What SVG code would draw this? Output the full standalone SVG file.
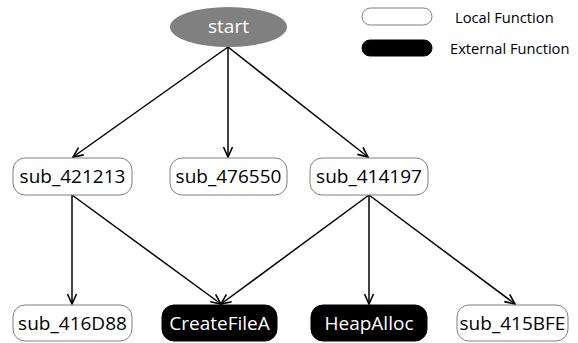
<svg xmlns="http://www.w3.org/2000/svg" width="578" height="343" viewBox="0 0 578 343">
  <style>
    .local rect { fill: #ffffff; stroke: #7f7f7f; stroke-width: 1; }
    .external rect { fill: #000000; stroke: #000000; stroke-width: 1; }
    .label { font-family: "Open Sans", "Liberation Sans", sans-serif; font-size: 19px; text-anchor: middle; dominant-baseline: central; }
    .local text { fill: #000000; }
    .external text { fill: #ffffff; }
    .legend-text { font-family: "Open Sans", "Liberation Sans", sans-serif; font-size: 14.7px; fill: #000000; dominant-baseline: central; }
    .edges line { stroke: #000000; stroke-width: 1.5; marker-end: url(#arrow); }
  </style>
  <defs>
    <marker id="arrow" viewBox="0 0 12 12" refX="11" refY="6" markerWidth="12" markerHeight="12" markerUnits="userSpaceOnUse" orient="auto">
      <path d="M1,1.5 L11,6 L1,10.5" fill="none" stroke="#000000" stroke-width="1.6"/>
    </marker>
  </defs>
  <rect width="578" height="343" fill="#ffffff"/>

  <!-- legend -->
  <g id="legend">
    <g class="local"><rect x="362" y="8" width="70" height="17" rx="8.5"/></g>
    <text class="legend-text" x="455" y="16.5">Local Function</text>
    <g class="external"><rect x="362" y="40" width="70" height="16" rx="8"/></g>
    <text class="legend-text" x="450" y="48">External Function</text>
  </g>

  <!-- call edges -->
  <g class="edges">
    <line x1="228" y1="47" x2="73" y2="157"/>
    <line x1="228" y1="47" x2="228" y2="157"/>
    <line x1="228" y1="47" x2="368" y2="157"/>
    <line x1="72" y1="195" x2="72" y2="304"/>
    <line x1="72" y1="195" x2="221" y2="304"/>
    <line x1="369" y1="195" x2="221" y2="304"/>
    <line x1="369" y1="195" x2="369" y2="304"/>
    <line x1="369" y1="195" x2="515" y2="304"/>
  </g>

  <g id="start">
    <ellipse cx="228.5" cy="27" rx="58.5" ry="20" fill="#808080"/>
    <text class="label" x="228.5" y="26" fill="#ffffff">start</text>
  </g>

  <g id="sub_421213" class="local">
    <rect x="13" y="158" width="119" height="37" rx="12"/>
    <text class="label" x="72.5" y="176">sub_421213</text>
  </g>
  <g id="sub_476550" class="local">
    <rect x="170" y="158" width="117" height="37" rx="12"/>
    <text class="label" x="228.5" y="176">sub_476550</text>
  </g>
  <g id="sub_414197" class="local">
    <rect x="310" y="158" width="118" height="37" rx="12"/>
    <text class="label" x="369" y="176">sub_414197</text>
  </g>

  <g id="sub_416D88" class="local">
    <rect x="13" y="305" width="119" height="36" rx="12"/>
    <text class="label" x="72.5" y="323">sub_416D88</text>
  </g>
  <g id="CreateFileA" class="external">
    <rect x="162" y="305" width="115" height="36" rx="12"/>
    <text class="label" x="219.5" y="323">CreateFileA</text>
  </g>
  <g id="HeapAlloc" class="external">
    <rect x="311" y="305" width="116" height="36" rx="12"/>
    <text class="label" x="369" y="323">HeapAlloc</text>
  </g>
  <g id="sub_415BFE" class="local">
    <rect x="457" y="305" width="111" height="36" rx="12"/>
    <text class="label" x="512.5" y="323">sub_415BFE</text>
  </g>
</svg>
